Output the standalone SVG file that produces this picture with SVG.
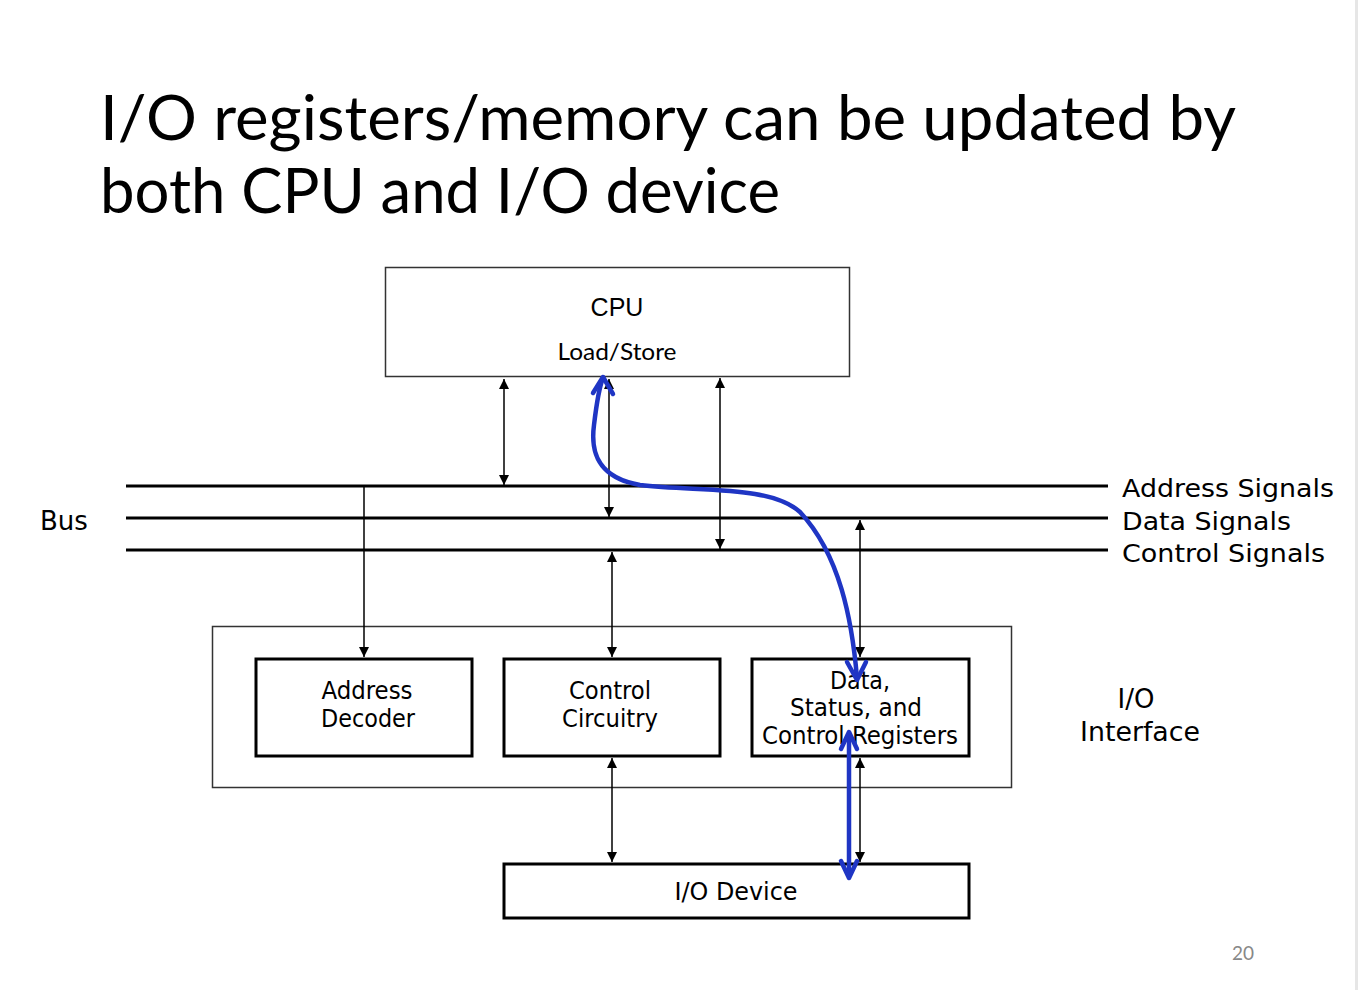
<svg xmlns="http://www.w3.org/2000/svg" width="1358" height="990" viewBox="0 0 1358 990">
<defs>
<style>
.title{font-family:Lato,"Open Sans","Liberation Sans",sans-serif;font-size:62px;fill:#000}
.dv{font-family:"DejaVu Sans",Verdana,sans-serif;fill:#000}
.lb{font-family:"DejaVu Sans Condensed","DejaVu Sans",sans-serif;font-size:24px;fill:#000;text-anchor:middle}
.bus{stroke:#000;stroke-width:3;fill:none}
.thin{stroke:#000;stroke-width:1.5;fill:none}
.box{fill:#fff;stroke:#000;stroke-width:3}
.outer{fill:none;stroke:#333;stroke-width:1.5}
.blue{stroke:#1f35c4;stroke-width:4.5;fill:none;stroke-linecap:round;stroke-linejoin:round}
</style>
<marker id="ah" viewBox="0 0 10 10" refX="10" refY="5" markerWidth="10" markerHeight="10" markerUnits="userSpaceOnUse" orient="auto-start-reverse">
<path d="M0,0 L10,5 L0,10 z" fill="#000"/>
</marker>
</defs>
<rect width="1358" height="990" fill="#fff"/>
<rect x="1355" y="0" width="3" height="990" fill="#e6e6e6"/>
<text class="title" x="100" y="140" textLength="1136" lengthAdjust="spacingAndGlyphs">I/O registers/memory can be updated by</text>
<text class="title" x="100" y="213" textLength="680" lengthAdjust="spacingAndGlyphs">both CPU and I/O device</text>

<g id="bus">
<line class="bus" x1="126" y1="486" x2="1108" y2="486"/>
<line class="bus" x1="126" y1="518" x2="1108" y2="518"/>
<line class="bus" x1="126" y1="550" x2="1108" y2="550"/>
<text class="dv" x="40" y="530" font-size="26">Bus</text>
<text class="dv" x="1122" y="497" font-size="25" textLength="212" lengthAdjust="spacingAndGlyphs">Address Signals</text>
<text class="dv" x="1122" y="530" font-size="25" textLength="169" lengthAdjust="spacingAndGlyphs">Data Signals</text>
<text class="dv" x="1122" y="562" font-size="25" textLength="203" lengthAdjust="spacingAndGlyphs">Control Signals</text>
</g>

<g id="cpu">
<rect x="385.5" y="267.5" width="464" height="109" fill="#fff" stroke="#333" stroke-width="1.5"/>
<text x="617" y="316" font-family="'Liberation Sans',Arial,sans-serif" font-size="25" text-anchor="middle">CPU</text>
<text x="617" y="360" font-family="Lato,'Open Sans',sans-serif" font-size="23" text-anchor="middle" textLength="119" lengthAdjust="spacingAndGlyphs">Load/Store</text>
</g>

<g id="io-interface">
<rect class="outer" x="212.5" y="626.5" width="799" height="161"/>
<text class="dv" x="1136" y="708" font-size="26" text-anchor="middle">I/O</text>
<text class="dv" x="1140" y="741" font-size="26" text-anchor="middle" textLength="120" lengthAdjust="spacingAndGlyphs">Interface</text>
</g>

<g id="address-decoder">
<rect class="box" x="256" y="659" width="216" height="97"/>
<text class="lb" x="367" y="699" textLength="91" lengthAdjust="spacingAndGlyphs">Address</text>
<text class="lb" x="368" y="727" textLength="94" lengthAdjust="spacingAndGlyphs">Decoder</text>
</g>

<g id="control-circuitry">
<rect class="box" x="504" y="659" width="216" height="97"/>
<text class="lb" x="610" y="699" textLength="82" lengthAdjust="spacingAndGlyphs">Control</text>
<text class="lb" x="610" y="727" textLength="96" lengthAdjust="spacingAndGlyphs">Circuitry</text>
</g>

<g id="registers">
<rect class="box" x="752" y="659" width="217" height="97"/>
<text class="lb" x="860" y="689" textLength="60" lengthAdjust="spacingAndGlyphs">Data,</text>
<text class="lb" x="856" y="716" textLength="132" lengthAdjust="spacingAndGlyphs">Status, and</text>
<text class="lb" x="860" y="744" textLength="196" lengthAdjust="spacingAndGlyphs">Control Registers</text>
</g>

<g id="io-device">
<rect class="box" x="504" y="864" width="465" height="54"/>
<text class="lb" x="736" y="900" textLength="123" lengthAdjust="spacingAndGlyphs">I/O Device</text>
</g>

<g id="connectors">
<line class="thin" x1="504" y1="379" x2="504" y2="485" marker-start="url(#ah)" marker-end="url(#ah)"/>
<line class="thin" x1="609" y1="379" x2="609" y2="517" marker-start="url(#ah)" marker-end="url(#ah)"/>
<line class="thin" x1="720" y1="378" x2="720" y2="549" marker-start="url(#ah)" marker-end="url(#ah)"/>
<line class="thin" x1="364" y1="487" x2="364" y2="657" marker-end="url(#ah)"/>
<line class="thin" x1="612" y1="552" x2="612" y2="657" marker-start="url(#ah)" marker-end="url(#ah)"/>
<line class="thin" x1="860" y1="520" x2="860" y2="657" marker-start="url(#ah)" marker-end="url(#ah)"/>
<line class="thin" x1="612" y1="758" x2="612" y2="862" marker-start="url(#ah)" marker-end="url(#ah)"/>
<line class="thin" x1="860" y1="758" x2="860" y2="862" marker-start="url(#ah)" marker-end="url(#ah)"/>
</g>

<g id="blue-paths">
<path class="blue" d="M857,678 C852,620 840,555 800,512 C770,485 700,492 640,485 C600,478 590,455 594,425 C597,400 600,385 603,378"/>
<path class="blue" d="M593,393 L603,377 L613,394"/>
<path class="blue" d="M847,662 L857,680 L866,662"/>
<line class="blue" x1="849" y1="734" x2="849" y2="876"/>
<path class="blue" d="M841,749 L849,732 L857,749"/>
<path class="blue" d="M841,861 L849,878 L857,861"/>
</g>

<text x="1243" y="960" font-family="Lato,'Open Sans',sans-serif" font-size="19" fill="#888" text-anchor="middle">20</text>
</svg>
